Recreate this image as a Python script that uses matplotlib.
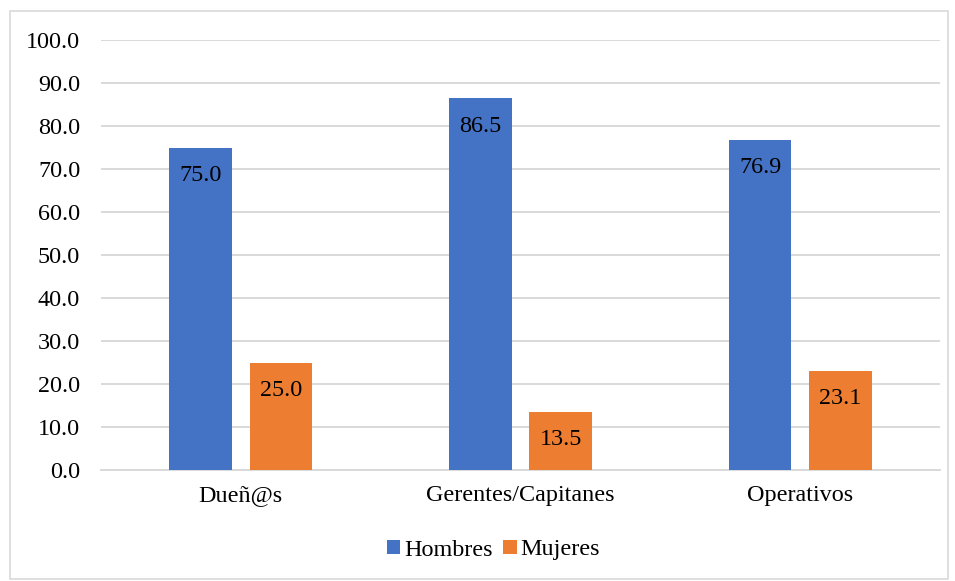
import matplotlib
matplotlib.use("Agg")
import matplotlib.pyplot as plt
import numpy as np
from matplotlib.patches import Rectangle

categories = ["Dueñ@s", "Gerentes/Capitanes", "Operativos"]
hombres = [75.0, 86.5, 76.9]
mujeres = [25.0, 13.5, 23.1]
series_names = ["Hombres", "Mujeres"]
yticks = [0, 10, 20, 30, 40, 50, 60, 70, 80, 90, 100]

plt.rcParams['font.family'] = ['Liberation Serif', 'DejaVu Serif']

W, H = 955, 581
fig = plt.figure(figsize=(W / 100, H / 100), dpi=100)
ax = fig.add_axes([101 / W, 1 - 470 / H, (940 - 101) / W, (470 - 40.3) / H])

x = np.arange(len(categories))
bw = 0.2235
off = 0.1435
blue = "#4472C4"
orange = "#ED7D31"
b1 = ax.bar(x - off, hombres, bw, color=blue, label=series_names[0], zorder=3)
b2 = ax.bar(x + off, mujeres, bw, color=orange, label=series_names[1], zorder=3)

fs = 17.4
for bars, vals in ((b1, hombres), (b2, mujeres)):
    for r, v in zip(bars, vals):
        ax.annotate(f"{v:.1f}", (r.get_x() + r.get_width() / 2, v),
                    xytext=(0, -20), textcoords="offset points",
                    ha="center", va="center", fontsize=fs, color="#000000", zorder=4)

ax.set_xlim(-0.5, len(categories) - 0.5)
ax.set_ylim(0, 100)
ax.set_yticks(yticks)
ax.set_yticklabels([f"{t:.1f}" for t in yticks], fontsize=fs)
ax.set_xticks(x)
ax.set_xticklabels(categories, fontsize=fs)
ax.tick_params(axis="both", length=0)
ax.tick_params(axis="y", pad=15)
ax.tick_params(axis="x", pad=11)
ax.grid(axis="y", color="#D9D9D9", linewidth=1.4, zorder=0)
for s in ("top", "right", "left"):
    ax.spines[s].set_visible(False)
ax.spines["bottom"].set_color("#D9D9D9")
ax.spines["bottom"].set_linewidth(1.4)

leg = fig.legend(handles=[b1, b2], labels=series_names, loc="center",
                 bbox_to_anchor=(493.5 / W, 1 - 550 / H), ncol=2, frameon=False,
                 fontsize=fs, handlelength=0.55, handleheight=0.55,
                 handletextpad=0.15, columnspacing=0.45)

fig.patches.append(Rectangle((9.5 / W, 1 - 578.5 / H), (948 - 9.5) / W, (578.5 - 11) / H,
                             transform=fig.transFigure, fill=False,
                             edgecolor="#D9D9D9", linewidth=1.2))

fig.savefig("out.png", dpi=100)
